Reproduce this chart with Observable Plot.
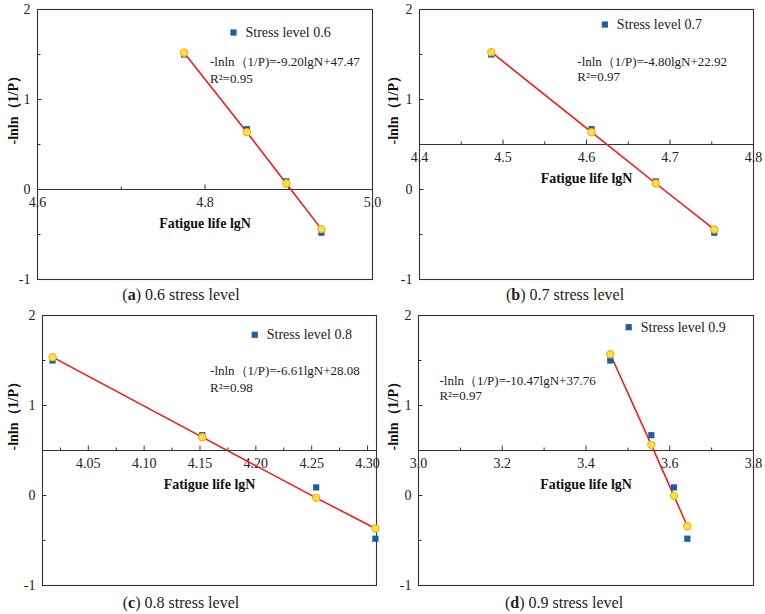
<!DOCTYPE html>
<html>
<head>
<meta charset="utf-8">
<script src="https://cdn.jsdelivr.net/npm/d3@7"></script>
<script src="https://cdn.jsdelivr.net/npm/@observablehq/plot@0.6"></script>
<style>
  body { margin: 0; background: #fff; }
  #root { position: relative; width: 765px; height: 614px; background: #fff; }
  .panel { position: absolute; }
  .caption { position: absolute; font-family: "Liberation Serif", serif; font-size: 16px; color: #222; white-space: nowrap; transform: translate(-50%, -50%); }
</style>
</head>
<body>
<div id="root"></div>
<script>
// Weibull check of fatigue life at four stress levels
const stressLevels = ["0.6", "0.7", "0.8", "0.9"];
const panelTags = ["a", "b", "c", "d"];

// lgN of the four specimens at each stress level
const lgN06 = [4.775, 4.850, 4.897, 4.939];
const lgN07 = [4.486, 4.606, 4.683, 4.753];
const lgN08 = [4.018, 4.152, 4.254, 4.307];
const lgN09 = [3.458, 3.556, 3.610, 3.642];

// -lnln(1/P) from the ranked survival probabilities
const observed = [1.50, 0.67, 0.09, -0.48];

// values on the fitted straight line
const fitted06 = [1.52, 0.637, 0.067, -0.44];
const fitted07 = [1.526, 0.637, 0.067, -0.444];
const fitted08 = [1.537, 0.648, -0.026, -0.367];
const fitted09 = [1.57, 0.563, -0.004, -0.341];

const equations = [
  "-lnln（1/P)=-9.20lgN+47.47",
  "-lnln（1/P)=-4.80lgN+22.92",
  "-lnln（1/P)=-6.61lgN+28.08",
  "-lnln（1/P)=-10.47lgN+37.76"
];
const rSquared = ["0.95", "0.97", "0.98", "0.97"];

// axis tick values
const xMajor06 = [4.6, 4.8, 5.0];
const xMinor06 = [4.7, 4.9];
const xMajor07 = [4.4, 4.5, 4.6, 4.7, 4.8];
const xMinor07 = [4.45, 4.55, 4.65, 4.75];
const xMajor08 = [4.05, 4.10, 4.15, 4.20, 4.25, 4.30];
const xMinor08 = [4.025, 4.075, 4.125, 4.175, 4.225, 4.275];
const xMajor09 = [3.0, 3.2, 3.4, 3.6, 3.8];
const xMinor09 = [3.1, 3.3, 3.5, 3.7];
const yMajor = [-1, 0, 1, 2];
const yMinor = [-0.5, 0.5, 1.5];
const yDomain = [-1, 2];

const blue = "#1a5f9f";
const ink = "#333";
const serif = "'Liberation Serif', 'Times New Roman', serif";

const panels = [
  {lgN: lgN06, fit: fitted06, xDomain: [4.6, 5.0], xMajor: xMajor06, xMinor: xMinor06, digits: 1, axisAt: 0,
   legend: [4.834, 1.744], eq: [4.806, 1.414, 1.23],
   box: {left: 0, top: 0, width: 380, ml: 37, mr: 8}},
  {lgN: lgN07, fit: fitted07, xDomain: [4.4, 4.8], xMajor: xMajor07, xMinor: xMinor07, digits: 1, axisAt: 0.5,
   legend: [4.622, 1.833], eq: [4.589, 1.422, 1.248],
   box: {left: 380, top: 0, width: 385, ml: 39, mr: 12}},
  {lgN: lgN08, fit: fitted08, xDomain: [4.009, 4.308], xMajor: xMajor08, xMinor: xMinor08, digits: 2, axisAt: 0.5,
   legend: [4.199, 1.786], eq: [4.159, 1.389, 1.197],
   box: {left: 0, top: 306, width: 380, ml: 42, mr: 4}},
  {lgN: lgN09, fit: fitted09, xDomain: [3.0, 3.8], xMajor: xMajor09, xMinor: xMinor09, digits: 1, axisAt: 0.5,
   legend: [3.502, 1.87], eq: [3.050, 1.278, 1.111],
   box: {left: 380, top: 306, width: 385, ml: 38, mr: 12}}
];

const captionPos = [[181, 295], [565, 295], [181, 603], [564, 603]];
const H = 290, MT = 9, MB = 11;

const root = document.getElementById("root");

panels.forEach((p, k) => {
  const pts = p.lgN.map((x, i) => ({x, obs: observed[i], fit: p.fit[i]}));
  const x0 = p.xDomain[0];
  // convert pixel tick lengths into data units of each scale
  const xPerPx = (p.xDomain[1] - p.xDomain[0]) / (p.box.width - p.box.ml - p.box.mr);
  const yPerPx = (yDomain[1] - yDomain[0]) / (H - MT - MB);
  const yTick = (len) => (d) => ({x1: x0, x2: x0 + len * xPerPx, y: d});
  const xTick = (len) => (d) => ({x: d, y1: p.axisAt, y2: p.axisAt + len * yPerPx});
  const yTicks = [...yMajor.map(yTick(4)), ...yMinor.map(yTick(3))];
  const xTicks = [...p.xMajor.map(xTick(5)), ...p.xMinor.map(xTick(3))];

  const chart = Plot.plot({
    width: p.box.width,
    height: H,
    marginLeft: p.box.ml,
    marginRight: p.box.mr,
    marginTop: MT,
    marginBottom: MB,
    x: {domain: p.xDomain, axis: null},
    y: {domain: yDomain, axis: null},
    style: {fontFamily: serif, fontSize: "14px", color: "#222", background: "transparent", overflow: "visible"},
    marks: [
      Plot.frame({stroke: ink, strokeWidth: 1.1}),
      // y axis: labels outside, ticks pointing inward
      Plot.text(yMajor, {frameAnchor: "left", y: d => d, dx: -7, text: d => `${d}`, textAnchor: "end", fontSize: 14, fill: "#222"}),
      Plot.link(yTicks, {x1: "x1", x2: "x2", y1: "y", y2: "y", stroke: ink}),
      // x axis drawn across the frame at axisAt, ticks pointing up
      Plot.ruleY([p.axisAt], {stroke: ink, strokeWidth: 1.1}),
      Plot.link(xTicks, {x1: "x", x2: "x", y1: "y1", y2: "y2", stroke: ink}),
      Plot.text(p.xMajor, {x: d => d, y: p.axisAt, dy: 13, text: d => d.toFixed(p.digits), fontSize: 14, fill: "#222"}),
      Plot.text(["Fatigue life lgN"], {frameAnchor: "middle", y: p.axisAt, dy: 34, fontWeight: "bold", fontSize: 14, fill: "#111"}),
      Plot.text(["-lnln（1/P）"], {frameAnchor: "left", rotate: -90, dx: 13 - p.box.ml, fontWeight: "bold", fontSize: 14, fill: "#111"}),
      // fitted line and points
      Plot.line(pts, {x: "x", y: "fit", stroke: "#ff1010", strokeWidth: 1.5}),
      Plot.dot(pts, {x: "x", y: "obs", symbol: "square", r: 3.5, fill: blue}),
      Plot.dot(pts, {x: "x", y: "fit", r: 3.6, fill: "#ffe04a", stroke: "#f2b50a", strokeWidth: 1.2}),
      // legend and regression equation
      Plot.dot([p.legend], {x: d => d[0], y: d => d[1], symbol: "square", r: 3.5, fill: blue}),
      Plot.text([p.legend], {x: d => d[0], y: d => d[1], dx: 12, text: () => `Stress level ${stressLevels[k]}`, textAnchor: "start", fontSize: 14, fill: "#222"}),
      Plot.text([p.eq], {x: d => d[0], y: d => d[1], text: () => equations[k], textAnchor: "start", fontSize: 13, fill: "#222"}),
      Plot.text([p.eq], {x: d => d[0], y: d => d[2], text: () => `R²=${rSquared[k]}`, textAnchor: "start", fontSize: 13, fill: "#222"})
    ]
  });
  chart.classList.add("panel");
  chart.style.left = p.box.left + "px";
  chart.style.top = p.box.top + "px";
  root.appendChild(chart);

  const cap = document.createElement("div");
  cap.className = "caption";
  cap.style.left = captionPos[k][0] + "px";
  cap.style.top = captionPos[k][1] + "px";
  cap.innerHTML = `(<b>${panelTags[k]}</b>) ${stressLevels[k]} stress level`;
  root.appendChild(cap);
});
</script>
</body>
</html>
